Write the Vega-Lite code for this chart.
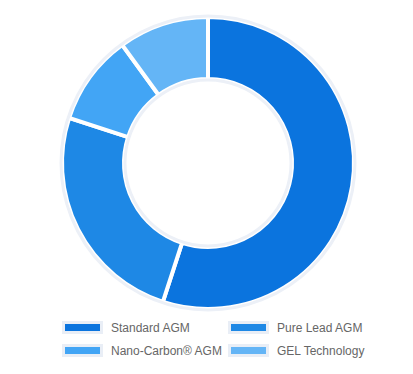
{
  "$schema": "https://vega.github.io/schema/vega-lite/v6.json",
  "width": 416,
  "height": 326,
  "padding": 0,
  "background": "white",
  "config": {"view": {"stroke": null}},
  "data": {"values": [
    {"type": "Standard AGM", "share": 55, "rank": 1},
    {"type": "Pure Lead AGM", "share": 25, "rank": 2},
    {"type": "Nano-Carbon® AGM", "share": 10, "rank": 3},
    {"type": "GEL Technology", "share": 10, "rank": 4}
  ]},
  "layer": [
    {
      "mark": {"type": "arc", "radius": 146, "radius2": 84, "stroke": "white", "strokeWidth": 4},
      "encoding": {
        "theta": {"field": "share", "type": "quantitative", "stack": true},
        "order": {"field": "rank", "type": "quantitative"},
        "color": {
          "field": "type", "type": "nominal",
          "scale": {"domain": ["Standard AGM", "Pure Lead AGM", "Nano-Carbon® AGM", "GEL Technology"], "range": ["#0b74de", "#1e88e5", "#42a5f5", "#64b5f6"]},
          "legend": {
            "title": null, "orient": "none", "legendX": 62, "legendY": 307,
            "direction": "horizontal", "columns": 2, "gridAlign": "none",
            "symbolType": "M-1,-0.263H1V0.263H-1Z", "symbolSize": 1444,
            "symbolStrokeColor": "#e9eef6", "symbolStrokeWidth": 3, "symbolOpacity": 1,
            "labelFont": "Liberation Sans", "labelFontSize": 12, "labelColor": "#666666",
            "labelOffset": 8, "columnPadding": 0, "rowPadding": -9
          }
        }
      }
    },
    {
      "data": {"values": [{}]},
      "mark": {"type": "arc", "radius": 147, "radius2": 83, "filled": false, "stroke": "#ecf0f7", "strokeWidth": 3},
      "encoding": {}
    }
  ]
}
